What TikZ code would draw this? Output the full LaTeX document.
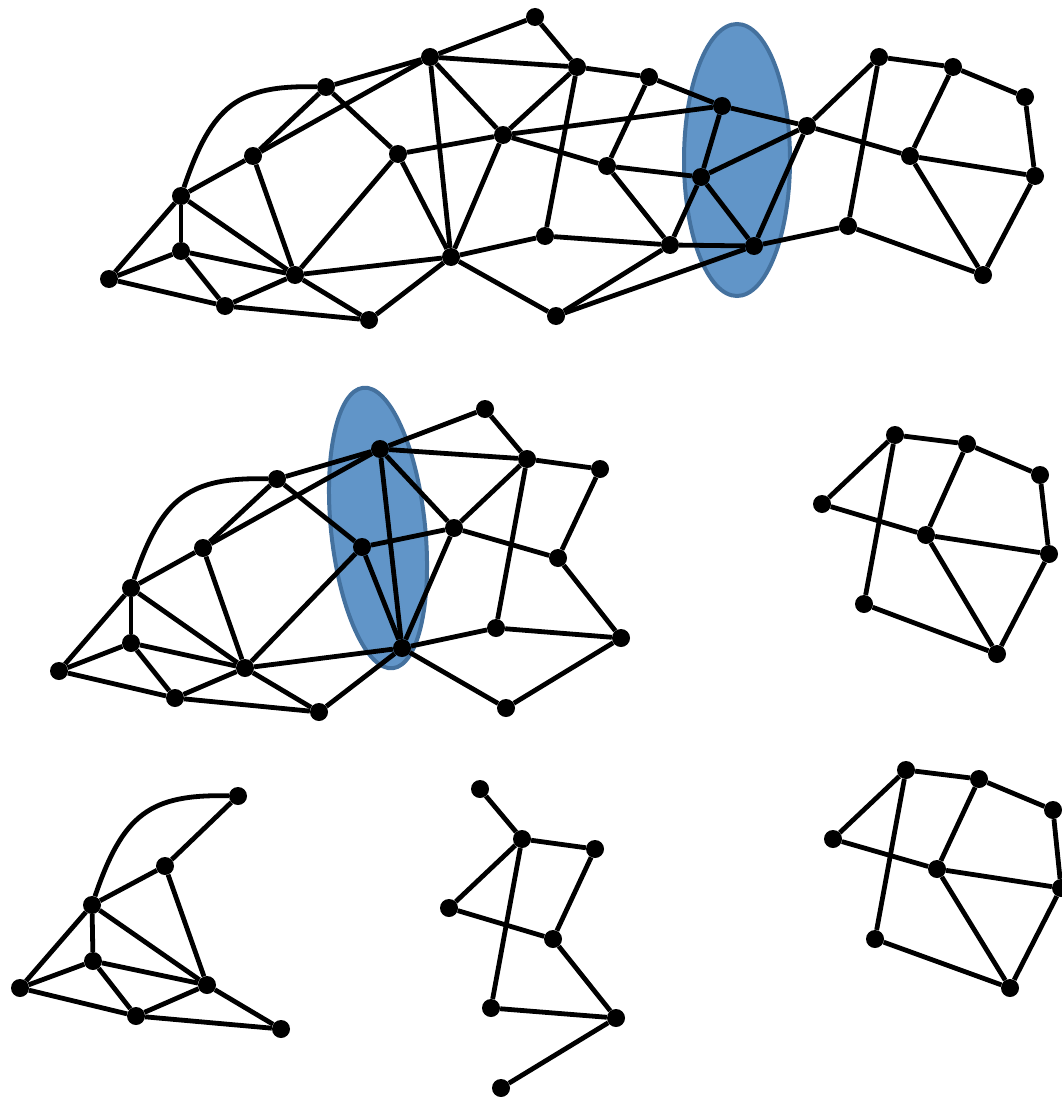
\documentclass[tikz,border=0pt]{standalone}
\definecolor{blobfill}{RGB}{97,149,200}
\definecolor{blobline}{RGB}{68,113,158}
\begin{document}
\begin{tikzpicture}[x=1pt,y=-1pt,
  vtx/.style={circle,fill=black,inner sep=0pt,minimum size=18pt},
  edge/.style={line width=4.8pt,black},
  blob/.style={fill=blobfill,draw=blobline,line width=4pt}]
\useasboundingbox (0,0) rectangle (1062,1097);
% highlighted regions
\draw[blob] (737,160) ellipse [x radius=53pt, y radius=136pt];
\draw[blob,rotate around={6:(378,528)}] (378,528) ellipse [x radius=47pt, y radius=141pt];
% top graph
\foreach \n/\x/\y in {A/535/17,B/430/57,C/326/87,D/253/156,E/181/196,F/181/251,G/109/279,
  H/225/306,I/295/275,J/369/320,K/398/154,L/451/257,M/503/135,N/545/236,O/577/67,
  P/649/77,Q/607/166,R/722/106,S/701/177,T/670/245,U/754/246,V/556/316,W/807/126,
  X/879/57,Y/953/67,Z/1025/97,AA/910/156,AB/1035/176,AC/848/226,AD/983/275}
  \node[vtx] (\n) at (\x,\y) {};
% middle left graph
\foreach \n/\x/\y in {mA/485/409,mB/380/449,mC/277/479,mD/203/548,mE/131/588,mF/131/643,
  mG/59/671,mH/175/698,mI/245/668,mJ/319/712,mK/362/547,mL/402/648,mM/454/528,
  mN/496/628,mO/527/459,mP/600/469,mQ/558/558,mT/621/638,mV/506/708}
  \node[vtx] (\n) at (\x,\y) {};
% middle right graph
\foreach \n/\x/\y in {rW/822/504,rX/895/435,rY/967/444,rZ/1040/475,rAA/926/535,
  rAB/1049/554,rAC/864/604,rAD/997/654}
  \node[vtx] (\n) at (\x,\y) {};
% bottom left graph
\foreach \n/\x/\y in {bC/238/796,bD/165/866,bE/92/905,bF/93/961,bG/20/988,bH/136/1016,
  bI/207/985,bJ/281/1029}
  \node[vtx] (\n) at (\x,\y) {};
% bottom middle graph
\foreach \n/\x/\y in {cA/480/789,cO/522/839,cP/595/849,cM/449/908,cQ/553/939,
  cN/491/1008,cT/616/1018,cV/501/1088}
  \node[vtx] (\n) at (\x,\y) {};
% bottom right graph
\foreach \n/\x/\y in {dW/833/839,dX/906/770,dY/979/779,dZ/1053/810,dAA/937/869,
  dAB/1061/888,dAC/875/939,dAD/1010/988}
  \node[vtx] (\n) at (\x,\y) {};
% edges
\foreach \a/\b in {A/B,A/O,B/C,B/D,B/O,B/M,B/L,C/D,C/K,D/E,D/I,E/F,E/G,E/I,F/G,F/I,F/H,
  G/H,H/I,H/J,I/J,I/K,I/L,K/L,K/M,M/L,M/O,M/R,M/Q,L/N,L/V,L/J,N/O,N/T,O/P,P/Q,P/R,
  Q/S,Q/T,R/S,R/W,S/W,S/U,S/T,T/U,T/V,V/U,U/W,U/AC,W/X,W/AA,X/Y,X/AC,Y/AA,Y/Z,Z/AB,
  AA/AB,AA/AD,AB/AD,AC/AD}
  \draw[edge] (\a) -- (\b);
\foreach \a/\b in {mA/mB,mA/mO,mB/mC,mB/mD,mB/mO,mB/mM,mB/mL,mC/mD,mC/mK,mD/mE,mD/mI,
  mE/mF,mE/mG,mE/mI,mF/mG,mF/mI,mF/mH,mG/mH,mH/mI,mH/mJ,mI/mJ,mI/mK,mI/mL,mK/mL,
  mK/mM,mM/mL,mM/mO,mM/mQ,mL/mN,mL/mV,mL/mJ,mN/mO,mN/mT,mO/mP,mP/mQ,mQ/mT,mT/mV}
  \draw[edge] (\a) -- (\b);
\foreach \a/\b in {rW/rX,rW/rAA,rX/rY,rX/rAC,rY/rAA,rY/rZ,rZ/rAB,rAA/rAB,rAA/rAD,
  rAB/rAD,rAC/rAD,dW/dX,dW/dAA,dX/dY,dX/dAC,dY/dAA,dY/dZ,dZ/dAB,dAA/dAB,dAA/dAD,
  dAB/dAD,dAC/dAD}
  \draw[edge] (\a) -- (\b);
\foreach \a/\b in {bC/bD,bD/bE,bD/bI,bE/bF,bE/bG,bE/bI,bF/bG,bF/bI,bF/bH,bG/bH,bH/bI,
  bH/bJ,bI/bJ,cA/cO,cO/cP,cO/cM,cO/cN,cP/cQ,cM/cQ,cQ/cT,cN/cT,cT/cV}
  \draw[edge] (\a) -- (\b);
% curved edges
\draw[edge] (E) .. controls +(31,-91) and +(-88,-2) .. (C);
\draw[edge] (mE) .. controls +(31,-91) and +(-88,-2) .. (mC);
\draw[edge] (bE) .. controls +(31,-91) and +(-88,-2) .. (bC);
\end{tikzpicture}
\end{document}
